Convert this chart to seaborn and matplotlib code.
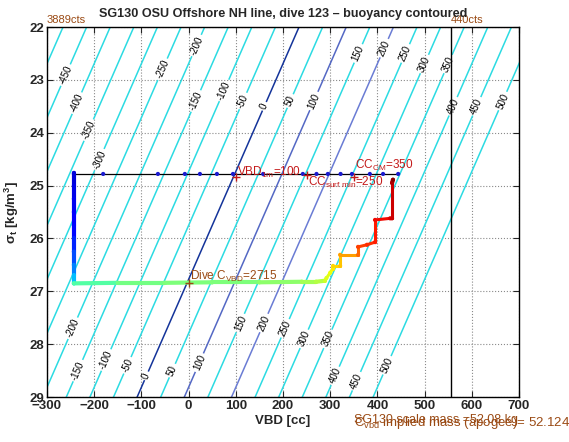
import numpy as np
import pandas as pd
import matplotlib
matplotlib.use('Agg')
import matplotlib.pyplot as plt
import seaborn as sns
from matplotlib.collections import LineCollection

sns.set_style('ticks')
plt.rcParams['font.family'] = ['Liberation Sans', 'DejaVu Sans']
plt.rcParams['mathtext.default'] = 'regular'

# ---------------- data ----------------
x_ticks = [-300, -200, -100, 0, 100, 200, 300, 400, 500, 600, 700]
y_ticks = [22, 23, 24, 25, 26, 27, 28, 29]

# buoyancy field (contoured): B = VBD + B_SLOPE*sigma - B_OFFSET
B_SLOPE = 49.0
B_OFFSET = 1312.0
buoy_levels = list(range(-500, 501, 50))
special_levels = {0: '#14349a', 100: '#5468c4', 200: '#6a7cd4'}
# contour label positions: (level, sigma)
label_top = [(-450, 22.91), (-400, 23.44), (-350, 23.95), (-300, 24.51), (-250, 22.8),
             (-200, 22.35), (-150, 23.4), (-100, 23.2), (-50, 23.4), (0, 23.5),
             (50, 23.4), (100, 23.4), (150, 22.5), (200, 22.4), (250, 22.5),
             (300, 22.7), (350, 22.7), (400, 23.5), (450, 23.5), (500, 23.4)]
label_bot = [(-200, 27.7), (-150, 28.5), (-100, 28.3), (-50, 28.4), (0, 28.6),
             (50, 28.5), (100, 28.35), (150, 27.6), (200, 27.6), (250, 27.7),
             (300, 27.9), (350, 27.9), (400, 28.6), (450, 28.7), (500, 28.4)]

# surface samples
surf_vbd = [-243, -181, -65, -8, 24, 60, 94, 158, 242, 271, 295, 322, 346, 384, 412, 444]
surf_sigma = [24.78] * len(surf_vbd)

# dive path (VBD, sigma_t, colour fraction along the dive)
desc_vbd = [-243, -243, -243, -243, -243, -243, -243, -243, -243, -243]
desc_sigma = [24.76, 25.0, 25.25, 25.5, 25.75, 26.0, 26.25, 26.5, 26.7, 26.85]
desc_c = [0.08, 0.09, 0.10, 0.11, 0.13, 0.16, 0.20, 0.25, 0.31, 0.37]

apo_vbd = [-243, -150, -50, 50, 150, 240, 270, 289]
apo_sigma = [26.85, 26.84, 26.84, 26.83, 26.83, 26.82, 26.82, 26.80]
apo_c = [0.45, 0.49, 0.50, 0.50, 0.52, 0.55, 0.57, 0.60]

asc_vbd = [289, 292, 300, 306, 306, 321, 321, 359, 359, 378, 395, 395, 427, 431, 431, 433]
asc_sigma = [26.80, 26.75, 26.65, 26.57, 26.52, 26.52, 26.31, 26.31, 26.16, 26.12, 26.07,
             25.65, 25.62, 25.62, 24.95, 24.89]
asc_c = [0.60, 0.62, 0.64, 0.66, 0.68, 0.70, 0.74, 0.80, 0.84, 0.86, 0.88, 0.90, 0.92,
         0.93, 0.96, 0.99]

# annotations
vbd_1m = 100
cc_surf_min = 250
cc_cm = 350
dive_c_vbd = 2715
line_440cts = 556
scale_mass = '52.08'
implied_mass = '52.124'

# ---------------- figure ----------------
fig = plt.figure(figsize=(5.69, 4.42), dpi=100)
ax = fig.add_axes([47 / 569, 1 - 397 / 442, 472 / 569, 370 / 442])
ax.set_xlim(-300, 700)
ax.set_ylim(29, 22)

# contours
gx = np.linspace(-330, 730, 300)
gy = np.linspace(21.7, 29.3, 200)
GX, GY = np.meshgrid(gx, gy)
GB = GX + B_SLOPE * GY - B_OFFSET
cols = [special_levels.get(l, '#2cdbe2') for l in buoy_levels]
cs = ax.contour(GX, GY, GB, levels=buoy_levels, colors=cols, linewidths=1.1, zorder=2)
manual = [(l + B_OFFSET - B_SLOPE * s, s) for l, s in label_top + label_bot]
labs = ax.clabel(cs, fmt='%d', fontsize=7, colors='black', manual=manual, inline=True,
                 inline_spacing=2)
# screen angle of the contour lines
p0 = ax.transData.transform((0, 22))
p1 = ax.transData.transform((B_SLOPE, 21))
ang = np.degrees(np.arctan2(p1[1] - p0[1], p1[0] - p0[0]))
for t in labs:
    t.set_rotation(ang)

# grid
ax.set_axisbelow(True)
ax.grid(True, linestyle=':', color='#8a8a8a', linewidth=0.8)

# surface line
sdf = pd.DataFrame({'vbd': surf_vbd, 'sigma': surf_sigma})
ax.plot(sdf['vbd'], sdf['sigma'], color='black', linewidth=0.9, zorder=4)
sns.scatterplot(data=sdf, x='vbd', y='sigma', color='#1a1ad0', s=9, edgecolor='none',
                ax=ax, zorder=5, legend=False)

# dive path coloured by progress
jet = plt.get_cmap('jet')
pv = desc_vbd + apo_vbd + asc_vbd
ps = desc_sigma + apo_sigma + asc_sigma
pc = desc_c + apo_c + asc_c
widths = [3.0] * (len(desc_vbd) + len(apo_vbd) - 1) + [2.2] * (len(asc_vbd) - 1)
pts = np.column_stack([pv, ps])
segs = np.stack([pts[:-1], pts[1:]], axis=1)
lc = LineCollection(segs, colors=jet(np.array(pc[:-1])), linewidths=widths,
                    capstyle='round', zorder=6)
ax.add_collection(lc)
pdf = pd.DataFrame({'vbd': pv, 'sigma': ps, 'c': pc})
sns.scatterplot(data=pdf, x='vbd', y='sigma', hue='c', palette=jet, hue_norm=(0, 1),
                s=9, edgecolor='none', ax=ax, zorder=7, legend=False)

# vertical count line
ax.axvline(line_440cts, color='black', linewidth=1.0, zorder=3)

# markers and labels
red = '#c41a1a'
brown = '#9a4a14'
ax.plot([vbd_1m, cc_surf_min, cc_cm], [24.83, 24.8, 24.83], '+', color=red,
        markersize=6, markeredgewidth=1.0, zorder=8)
ax.text(vbd_1m + 2, 24.75, r'VBD$_{1m}$=%d' % vbd_1m, color=red, fontsize=8.5,
        va='center', ha='left', zorder=9)
ax.text(cc_surf_min + 2, 24.95, r'CC$_{surf\ min}$=%d' % cc_surf_min, color=red,
        fontsize=8.5, va='center', ha='left', zorder=9)
ax.text(cc_cm + 2, 24.62, r'CC$_{CM}$=%d' % cc_cm, color=red, fontsize=8.5,
        va='center', ha='left', zorder=9)
ax.plot([0], [26.85], '+', color=brown, markersize=6, markeredgewidth=1.0, zorder=8)
ax.text(2, 26.78, r'Dive C$_{VBD}$=%d' % dive_c_vbd, color=brown, fontsize=8.5,
        va='baseline', ha='left', zorder=9)
ax.text(-300, 21.93, '3889cts', color=brown, fontsize=8, va='baseline', ha='left',
        clip_on=False)
ax.text(line_440cts, 21.93, '440cts', color=brown, fontsize=8, va='baseline', ha='left',
        clip_on=False)
ax.text(350, 29.43, 'SG130 scale mass =%s kg' % scale_mass, color=brown, fontsize=9,
        va='center', ha='left', clip_on=False)
ax.text(350, 29.5, r'C$_{vbd}$ implied mass (apogee)= %s' % implied_mass, color=brown,
        fontsize=9.5, va='center', ha='left', clip_on=False)

# axes
ax.set_xticks(x_ticks)
ax.set_yticks(y_ticks)
ax.tick_params(direction='in', top=True, right=True, length=4, width=0.8,
               labelsize=9.5, pad=2)
for lab in ax.get_xticklabels() + ax.get_yticklabels():
    lab.set_fontweight('bold')
for sp in ax.spines.values():
    sp.set_color('black')
    sp.set_linewidth(1.0)
ax.set_xlabel('VBD [cc]', fontsize=9.5, fontweight='bold', labelpad=2)
ax.set_ylabel(r'$\sigma_t$ [kg/m$^3$]', fontsize=9.5, fontweight='bold', labelpad=6)
ax.set_title('SG130 OSU Offshore NH line, dive 123 \u2013 buoyancy contoured',
             fontsize=9.1, fontweight='bold', pad=7)

fig.savefig('out.png', dpi=100)
